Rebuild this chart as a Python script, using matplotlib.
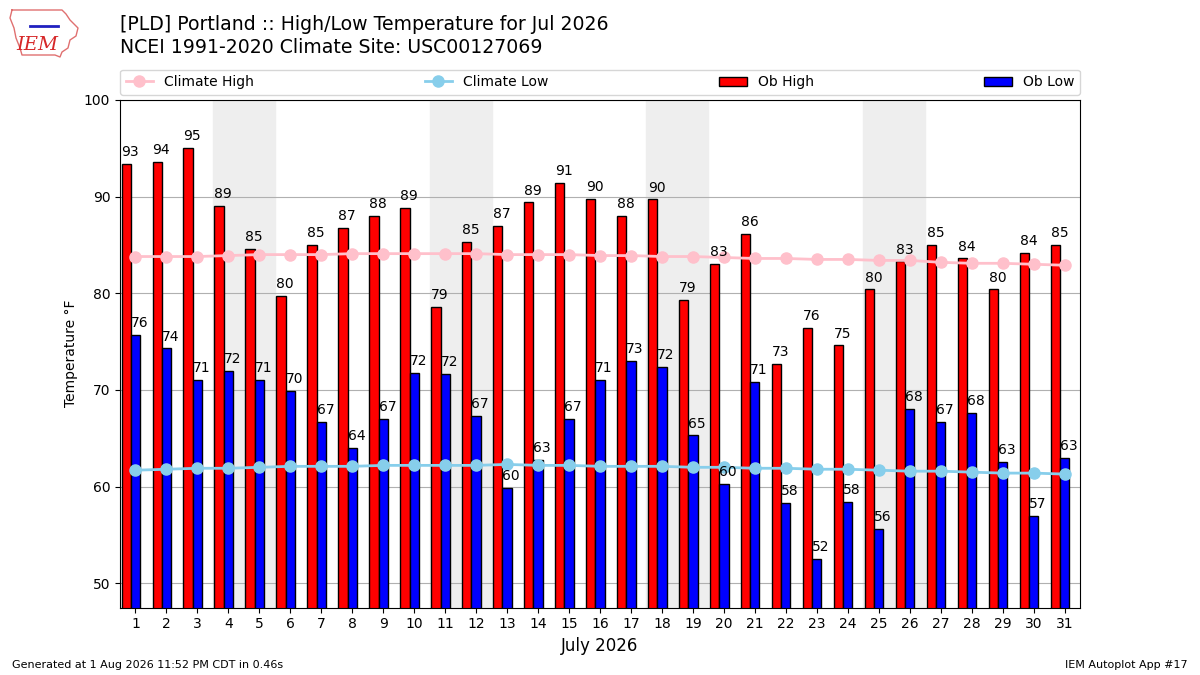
import numpy as np
import matplotlib
matplotlib.use("Agg")
import matplotlib.pyplot as plt

days = list(range(1, 32))

# observed high / low (F)
ob_high = [93.4, 93.6, 95.0, 89.0, 84.6, 79.7, 85.0, 86.8, 88.0, 88.8,
           78.6, 85.3, 87.0, 89.4, 91.4, 89.8, 88.0, 89.7, 79.3, 83.0,
           86.1, 72.7, 76.4, 74.6, 80.4, 83.3, 85.0, 83.6, 80.4, 84.2, 85.0]
ob_low = [75.7, 74.3, 71.0, 72.0, 71.0, 69.9, 66.7, 64.0, 67.0, 71.8,
          71.7, 67.3, 59.9, 62.8, 67.0, 71.0, 73.0, 72.4, 65.3, 60.3,
          70.8, 58.3, 52.5, 58.4, 55.6, 68.0, 66.7, 67.6, 62.6, 57.0, 63.0]

# NCEI 1991-2020 climatology
clim_high = [83.8, 83.8, 83.8, 83.9, 84.0, 84.0, 84.0, 84.1, 84.1, 84.1,
             84.1, 84.1, 84.0, 84.0, 84.0, 83.9, 83.9, 83.8, 83.8, 83.7,
             83.6, 83.6, 83.5, 83.5, 83.4, 83.4, 83.2, 83.1, 83.1, 83.0, 82.9]
clim_low = [61.7, 61.8, 61.9, 61.9, 62.0, 62.1, 62.1, 62.1, 62.2, 62.2,
            62.2, 62.2, 62.3, 62.2, 62.2, 62.1, 62.1, 62.1, 62.0, 62.0,
            61.9, 61.9, 61.8, 61.8, 61.7, 61.6, 61.6, 61.5, 61.4, 61.4, 61.3]

weekends = [(4, 5), (11, 12), (18, 19), (25, 26)]

x = np.array(days)

fig = plt.figure(figsize=(12, 6.75), dpi=100)
ax = fig.add_axes([0.1, 0.1, 0.8, 0.752])

for a, b in weekends:
    ax.axvspan(a - 0.5, b + 0.5, color="#eeeeee", zorder=0)

ax.bar(x - 0.3, ob_high, width=0.3, fc="r", ec="k", lw=1, label="Ob High", zorder=2)
ax.bar(x, ob_low, width=0.3, fc="b", ec="k", lw=1, label="Ob Low", zorder=2)

ax.plot(x, clim_high, color="pink", marker="o", ms=8, lw=2, label="Climate High", zorder=3)
ax.plot(x, clim_low, color="skyblue", marker="o", ms=8, lw=2, label="Climate Low", zorder=3)

for i in range(len(x)):
    ax.text(x[i] - 0.45, ob_high[i] + 0.5, "%.0f" % ob_high[i], ha="left", va="bottom",
            fontsize=10, zorder=4)
    ax.text(x[i] - 0.15, ob_low[i] + 0.5, "%.0f" % ob_low[i], ha="left", va="bottom",
            fontsize=10, zorder=4)

ax.set_xlim(0.5, 31.5)
ax.set_ylim(min(ob_low) - 5, max(ob_high) + 5)
ax.set_xticks(days)
ax.set_yticks([50, 60, 70, 80, 90, 100])
ax.yaxis.grid(True, color="#b0b0b0")
ax.set_axisbelow(True)
ax.set_ylabel("Temperature °F")
ax.set_xlabel("July 2026", fontsize=12)

# legend ordered like the original
h, l = ax.get_legend_handles_labels()
order = [l.index(n) for n in ["Climate High", "Climate Low", "Ob High", "Ob Low"]]
ax.legend([h[i] for i in order], [l[i] for i in order], loc="lower left",
          bbox_to_anchor=(0, 1.01, 1, 0.1), mode="expand", ncol=4, borderaxespad=0)

fig.text(0.1, 0.947, "[PLD] Portland :: High/Low Temperature for Jul 2026\n"
         "NCEI 1991-2020 Climate Site: USC00127069", fontsize=13.6, va="center",
         ha="left", linespacing=1.25)

# rough IEM logo: state outline plus text
outline = [(12, 10), (62, 10), (66, 14), (70, 20), (78, 28), (76, 36), (70, 40),
           (68, 48), (62, 52), (60, 57), (55, 55), (22, 55), (20, 48), (16, 38),
           (14, 28), (10, 18), (12, 10)]
fig.add_artist(plt.Line2D([p[0] / 1200 for p in outline], [1 - p[1] / 675 for p in outline],
                          color="#e07070", lw=1))
fig.add_artist(plt.Line2D([30 / 1200, 58 / 1200], [1 - 26 / 675, 1 - 26 / 675],
                          color="#2020c0", lw=2))
fig.text(0.031, 0.933, "IEM", color="#d62728", fontsize=14, family="serif", style="italic",
         ha="center", va="center")
fig.text(0.01, 0.01, "Generated at 1 Aug 2026 11:52 PM CDT in 0.46s", fontsize=8)
fig.text(0.99, 0.01, "IEM Autoplot App #17", fontsize=8, ha="right")

fig.savefig("out.png")
